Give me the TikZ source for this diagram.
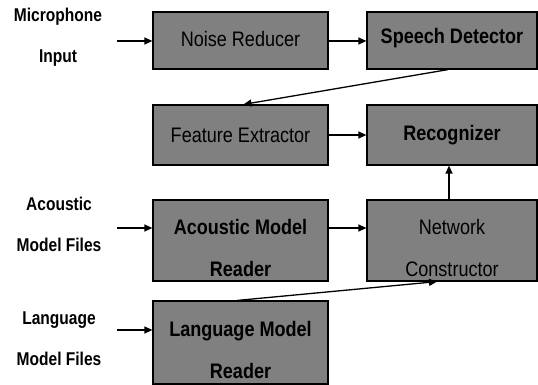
\documentclass[tikz,border=0pt]{standalone}
\usepackage{fontspec}
\setmainfont{Liberation Sans}[FakeStretch=0.86]
\newfontfamily\labelfont{Liberation Sans}[FakeStretch=0.84]
\usetikzlibrary{arrows.meta}
\definecolor{boxgray}{RGB}{128,128,128}
\begin{document}
\begin{tikzpicture}[x=1pt,y=-1pt,
  stage/.style={draw=black,line width=1.2pt,fill=boxgray,inner sep=0pt},
  boxtext/.style={align=center,inner sep=0pt,text=black,
    font=\fontsize{21}{42}\selectfont},
  srclabel/.style={align=center,inner sep=0pt,
    font=\labelfont\bfseries\fontsize{18.5}{41}\selectfont},
  flow/.style={line width=1.3pt,-{Triangle[length=8pt,width=7pt]}}]
\useasboundingbox (0,0) rectangle (538,385);
\fill[white] (0,0) rectangle (538,385);

% processing stages
\node[stage,minimum width=175pt,minimum height=57pt] (noise)    at (240.5,40.5) {};
\node[stage,minimum width=170pt,minimum height=57pt] (speech)   at (452,40.5) {};
\node[stage,minimum width=175pt,minimum height=60pt] (feature)  at (240.5,135) {};
\node[stage,minimum width=170pt,minimum height=60pt] (recog)    at (452,135) {};
\node[stage,minimum width=175pt,minimum height=81pt] (acoustic) at (240.5,240.5) {};
\node[stage,minimum width=170pt,minimum height=81pt] (network)  at (452,240.5) {};
\node[stage,minimum width=175pt,minimum height=83pt] (language) at (240.5,342.5) {};

% stage captions
\node[boxtext] (tnoise)    at ([yshift=2pt]noise.center) {Noise Reducer};
\node[boxtext] (tspeech)   at ([yshift=2pt]speech.center) {\bfseries Speech Detector};
\node[boxtext] (tfeature)  at (feature.center) {Feature Extractor};
\node[boxtext] (trecog)    at (recog.center) {\bfseries Recognizer};
\node[boxtext] (tacoustic) at ([yshift=-7pt]acoustic.center) {\bfseries Acoustic Model\\\bfseries Reader};
\node[boxtext] (tnetwork)  at ([yshift=-7pt]network.center) {Network\\Constructor};
\node[boxtext] (tlanguage) at ([yshift=-7pt]language.center) {\bfseries Language Model\\\bfseries Reader};

% input sources
\node[srclabel] (mic)   at (58,37.5)  {Microphone\\Input};
\node[srclabel] (amf)   at (59,224.5) {Acoustic\\Model Files};
\node[srclabel] (lmf)   at (59,338.5) {Language\\Model Files};

\coordinate (micin) at (117,41);
\coordinate (acin)  at (117,228);
\coordinate (lmin)  at (117,330);

% data flow
\draw[flow] (micin) -- (micin -| noise.west);
\draw[flow] (noise.east |- micin) -- (speech.west |- micin);
\draw[flow] ([xshift=-4pt]speech.south) -- ([xshift=3pt]feature.north);
\draw[flow] (feature.east) -- (recog.west);
\draw[flow] ([xshift=-3pt]network.north) -- ([xshift=-3pt]recog.south);
\draw[flow] (acin) -- (acin -| acoustic.west);
\draw[flow] (acoustic.east |- acin) -- (network.west |- acin);
\draw[flow] (lmin) -- (lmin -| language.west);
\draw[flow] ([xshift=-3pt]language.north) -- ([xshift=-15pt]network.south);
\end{tikzpicture}
\end{document}
